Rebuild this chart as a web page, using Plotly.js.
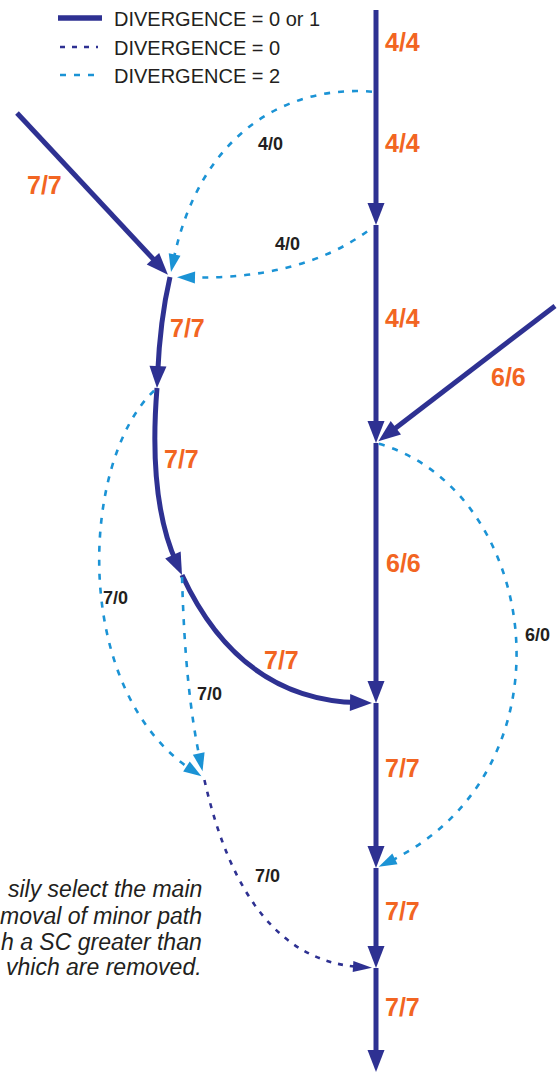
<!DOCTYPE html>
<html><head><meta charset="utf-8">
<script src="https://cdn.plot.ly/plotly-3.0.1.min.js"></script>
<style>html,body{margin:0;padding:0;background:#fff;overflow:hidden}#chart{width:558px;height:1074px}</style>
</head><body><div id="chart"></div>
<script>
// ---------- DATA ----------
// Nodes of the path diagram
const nodeIds = ['M0','M1','M2','M3','M4','M5','M6','M7','A','B','L1','L2','L3','LX'];
const nodeX   = [376, 376, 376, 376, 376, 376, 376, 376, 17, 555, 170, 157, 182, 204];
const nodeY   = [10,  92,  225, 443, 703, 868, 968, 1072, 113, 306, 277, 388, 575, 778];

// Edges (from -> to), their divergence class and their SC label
const edgeFrom   = ['M0','M1','M2','M3','M4','M5','M6','A', 'B', 'L1','L2','L3','M1','M2','L2','L3','M3','LX'];
const edgeTo     = ['M1','M2','M3','M4','M5','M6','M7','L1','M3','L2','L3','M4','L1','L1','LX','LX','M5','M6'];
const edgeClass  = ['01','01','01','01','01','01','01','01','01','01','01','01','2', '2', '2', '2', '2', '0'];
const edgeLabels = ['4/4','4/4','4/4','6/6','7/7','7/7','7/7','7/7','6/6','7/7','7/7','7/7','4/0','4/0','7/0','7/0','6/0','7/0'];

// Legend entries
const legendLabels = ['DIVERGENCE = 0 or 1', 'DIVERGENCE = 0', 'DIVERGENCE = 2'];
const legendClass  = ['01', '0', '2'];

// Caption fragment (visible part)
const captionLines = ['sily select the main', 'moval of minor path', 'h a SC greater than', 'vhich are removed.'];

// ---------- GEOMETRY / STYLE ----------
const edgeCtrl = [[],[],[],[],[],[],[],[],[],
  [[160,320]], [[148,500]], [[240,700]],
  [[290,85],[200,130]], [[300,280]], [[80,460],[70,690]], [[185,690]], [[540,490],[580,770]], [[245,960]]];
const edgeArrow    = [false,true,true,true,true,true,true,true,true,true,true,true,true,true,true,true,true,true];
const edgeStartGap = [0,0,0,0,0,0,0,0,0,0,0,0,4,11,4,2,3,2];
const edgeEndGap   = [0,0,0,0,0,0,0,3,3,0,0,4,5,7,3,7,3,4];
const labelX = [402,402,402,403,402,402,402,44, 508,187,181,281,270,287,115,209,537,267];
const labelY = [42, 143,318,563,768,911,1007,185,377,328,459,660,144,244,598,694,635,876];

const DARK = '#2e3192', CYAN = '#1b93d5', ORANGE = '#f26522', TXT = '#231f20';
const STYLE = {
  '01': {color: DARK, width: 5,   dash: 'solid',   L: 22, W: 8.5},
  '0':  {color: DARK, width: 2.6, dash: '5px,7px', L: 19, W: 5.5},
  '2':  {color: CYAN, width: 2.6, dash: '6px,8px', L: 18, W: 6}
};
const FONT = 'Liberation Sans, Arial, Helvetica, sans-serif';

// ---------- BUILD ----------
function unit(dx, dy){ const l = Math.hypot(dx, dy) || 1; return [dx/l, dy/l]; }
function nodePos(id){ const i = nodeIds.indexOf(id); return [nodeX[i], nodeY[i]]; }

const shapes = [], heads = [], annotations = [];

edgeFrom.forEach((f, i) => {
  const st = STYLE[edgeClass[i]];
  let p0 = nodePos(f), p1 = nodePos(edgeTo[i]);
  const ctrl = edgeCtrl[i];
  const firstRef = ctrl.length ? ctrl[0] : p1;
  const lastRef  = ctrl.length ? ctrl[ctrl.length-1] : p0;
  const ds = unit(firstRef[0]-p0[0], firstRef[1]-p0[1]);
  const de = unit(p1[0]-lastRef[0], p1[1]-lastRef[1]);
  p0 = [p0[0]+ds[0]*edgeStartGap[i], p0[1]+ds[1]*edgeStartGap[i]];
  const tip = [p1[0]-de[0]*edgeEndGap[i], p1[1]-de[1]*edgeEndGap[i]];
  let pe = tip;
  if (edgeArrow[i]) pe = [tip[0]-de[0]*st.L*0.6, tip[1]-de[1]*st.L*0.6];
  let path = `M${p0[0]},${p0[1]} `;
  if (ctrl.length === 0) path += `L${pe[0]},${pe[1]}`;
  else if (ctrl.length === 1) path += `Q${ctrl[0][0]},${ctrl[0][1]} ${pe[0]},${pe[1]}`;
  else path += `C${ctrl[0][0]},${ctrl[0][1]} ${ctrl[1][0]},${ctrl[1][1]} ${pe[0]},${pe[1]}`;
  shapes.push({type:'path', xref:'x', yref:'y', path, line:{color:st.color, width:st.width, dash:st.dash}});
  if (edgeArrow[i]) {
    const b = [tip[0]-de[0]*st.L, tip[1]-de[1]*st.L];
    const n = [-de[1], de[0]];
    heads.push({type:'path', xref:'x', yref:'y',
      path:`M${tip[0]},${tip[1]} L${b[0]+n[0]*st.W},${b[1]+n[1]*st.W} L${b[0]-n[0]*st.W},${b[1]-n[1]*st.W} Z`,
      fillcolor: st.color, line:{width:0}});
  }
  const big = edgeClass[i] === '01';
  annotations.push({x: labelX[i], y: labelY[i], xref:'x', yref:'y', text: '<b>' + edgeLabels[i] + '</b>',
    showarrow:false, xanchor:'center', yanchor:'middle',
    font:{family: FONT, size: big ? 25 : 18, color: big ? ORANGE : TXT}});
});

// Legend
const legY = [18, 47, 75];
legendLabels.forEach((t, i) => {
  const st = STYLE[legendClass[i]];
  const x0 = i === 0 ? 58 : 60, x1 = i === 0 ? 102 : 98;
  shapes.push({type:'line', xref:'x', yref:'y', x0, x1, y0: legY[i], y1: legY[i],
    line:{color: st.color, width: i === 0 ? 5.5 : st.width, dash: st.dash}});
  annotations.push({x:112, y: legY[i]+1, xref:'x', yref:'y', text: t, showarrow:false,
    xanchor:'left', yanchor:'middle', font:{family: FONT, size: 20, color: TXT}});
});

// Caption
const capY = [889, 916, 942, 967];
captionLines.forEach((t, i) => {
  annotations.push({x:204, y: capY[i], xref:'x', yref:'y', text: '<i>' + t + '</i>', showarrow:false,
    xanchor:'right', yanchor:'middle', font:{family: FONT, size: 23, color: TXT}});
});

const layout = {
  width: 558, height: 1074, margin:{l:0, r:0, t:0, b:0},
  paper_bgcolor:'#fff', plot_bgcolor:'#fff', showlegend:false,
  xaxis:{range:[0,558], visible:false, fixedrange:true},
  yaxis:{range:[1074,0], visible:false, fixedrange:true},
  shapes: shapes.concat(heads), annotations
};
Plotly.newPlot('chart', [{x:[], y:[], type:'scatter', mode:'lines', hoverinfo:'skip'}], layout,
  {staticPlot:true, displayModeBar:false});
</script></body></html>
